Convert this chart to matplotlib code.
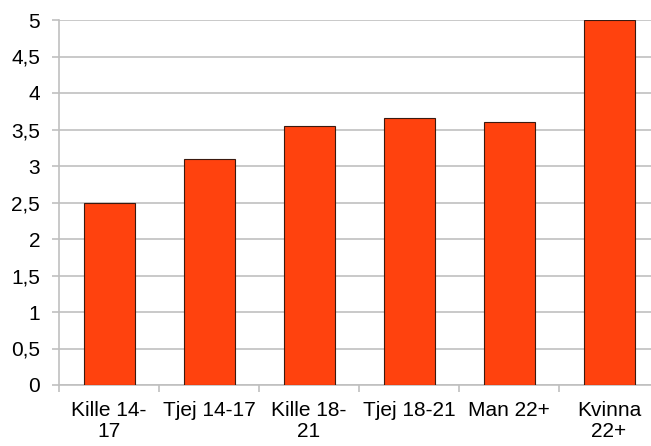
import matplotlib
matplotlib.use("Agg")
import matplotlib.pyplot as plt
import numpy as np

# data
categories = ["Kille 14-\n17", "Tjej 14-17", "Kille 18-\n21", "Tjej 18-21", "Man 22+", "Kvinna\n22+"]
values = [2.5, 3.1, 3.55, 3.66, 3.6, 5.0]
yticks = [0, 0.5, 1, 1.5, 2, 2.5, 3, 3.5, 4, 4.5, 5]

plt.rcParams["font.family"] = ["Liberation Sans", "DejaVu Sans"]

W, H = 651, 446
fig = plt.figure(figsize=(W / 100, H / 100), dpi=100)
ax = fig.add_axes([59 / W, 1 - 385 / H, 600 / W, 365 / H])

x = np.arange(len(categories))
ax.bar(x, values, width=0.51, color="#ff420e", edgecolor="#3a1a10", linewidth=0.8, zorder=3)

ax.set_xlim(-0.5, len(categories) - 0.5)
ax.set_ylim(0, 5)
ax.set_yticks(yticks)
ax.set_yticklabels([f"{v:g}".replace(".", ",") for v in yticks])
ax.yaxis.grid(True, color="#c0c0c0", linewidth=1.2, zorder=0)

# category ticks sit on boundaries, labels centred
ax.set_xticks(np.arange(len(categories) + 1) - 0.5)
ax.set_xticklabels([""] * (len(categories) + 1))
ax.set_xticks(x, minor=True)
ax.set_xticklabels(categories, minor=True, fontsize=15, linespacing=1.15)
ax.tick_params(axis="x", which="minor", length=0, pad=11.5)
ax.tick_params(axis="x", which="major", length=5, color="#c0c0c0", width=1.2)
ax.tick_params(axis="y", length=5, color="#c0c0c0", width=1.2, labelsize=15, pad=8.5)

for side in ["top", "right"]:
    ax.spines[side].set_visible(False)
for side in ["left", "bottom"]:
    ax.spines[side].set_color("#c0c0c0")
    ax.spines[side].set_linewidth(1.2)

fig.savefig("out.png", dpi=100)
